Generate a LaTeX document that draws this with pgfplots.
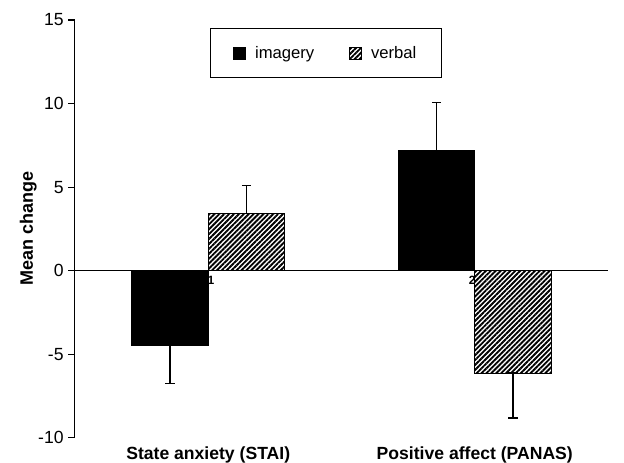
\documentclass[border=0pt]{standalone}
\usepackage{fontspec}
\setmainfont{Liberation Sans}
\usepackage{pgfplots}
\pgfplotsset{compat=1.18}
\usetikzlibrary{patterns.meta}
\tikzset{hatch/.style={pattern={Lines[angle=45,distance=2.6pt,line width=1.4pt]}}}
\begin{document}
\begin{tikzpicture}
\begin{axis}[
  set layers,
  scale only axis,
  width=400pt, height=313.5pt,
  xmin=0.5, xmax=2.5, ymin=-10, ymax=15,
  enlargelimits=false,
  axis y line*=left,
  axis x line*=bottom,
  x axis line style={draw=none},
  y axis line style={line width=0.8pt},
  ytick={-10,-5,0,5,10,15},
  ytick style={line width=0.8pt, black},
  major tick length=5pt,
  tick align=outside,
  xtick={1,2},
  xticklabels={State anxiety (STAI), Positive affect (PANAS)},
  major x tick style={draw=none},
  xticklabel style={font=\fontsize{13.2}{15}\selectfont\bfseries, yshift=2pt},
  yticklabel style={font=\fontsize{13.2}{15}\selectfont},
  /pgf/number format/assume math mode=true,
  clip=false,
  legend style={at={(axis cs:1.442,13.02)}, anchor=center, draw=black, line width=0.8pt,
    font=\fontsize{12.5}{15}\selectfont, inner xsep=17pt, inner ysep=11pt,
    /tikz/every even column/.append style={column sep=24pt}},
  legend columns=2,
  legend image code/.code={\draw[#1, draw=black, line width=0.6pt] (0pt,-4.5pt) rectangle (9pt,4.5pt); \path (14pt,0pt);},
]
\coordinate (bl) at (rel axis cs:0,0);
\coordinate (tr) at (rel axis cs:1,1);
\begin{pgfonlayer}{axis background}
\node[font=\fontsize{9}{10}\selectfont\bfseries, anchor=north, inner sep=1pt] at (axis cs:1.01,-0.25) {1};
\node[font=\fontsize{9}{10}\selectfont\bfseries, anchor=north, inner sep=1pt] at (axis cs:1.99,-0.25) {2};
\end{pgfonlayer}
\addplot[black, line width=0.8pt, forget plot] coordinates {(0.5,0) (2.5,0)};
\addplot[ybar, bar width=0.287, bar shift=0, fill=black, draw=black, line width=0.6pt,
  error bars/.cd, y dir=both, y explicit,
  error bar style={line width=0.9pt, black},
  error mark options={rotate=90, mark size=3.5pt, line width=0.9pt, black}]
  table[x=x, y=y, y error plus=ep, y error minus=em] {
  x y ep em
  0.8565 -4.45 0 2.32
  1.8565 7.2 2.85 0
};
\addlegendentry{imagery}
\addplot[ybar, bar width=0.287, bar shift=0, hatch, draw=black, line width=0.6pt,
  error bars/.cd, y dir=both, y explicit,
  error bar style={line width=0.9pt, black},
  error mark options={rotate=90, mark size=3.5pt, line width=0.9pt, black}]
  table[x=x, y=y, y error plus=ep, y error minus=em] {
  x y ep em
  1.1435 3.4 1.7 0
  2.1435 -6.13 0 2.69
};
\addlegendentry{verbal}
\node[rotate=90, font=\fontsize{13.5}{15}\selectfont\bfseries] at ([xshift=-35pt]rel axis cs:0,0.5) {Mean change};
\end{axis}
\pgfresetboundingbox
\path ([xshift=-56.25pt,yshift=-18.75pt]bl) rectangle ([xshift=12pt,yshift=15pt]tr);
\end{tikzpicture}
\end{document}
